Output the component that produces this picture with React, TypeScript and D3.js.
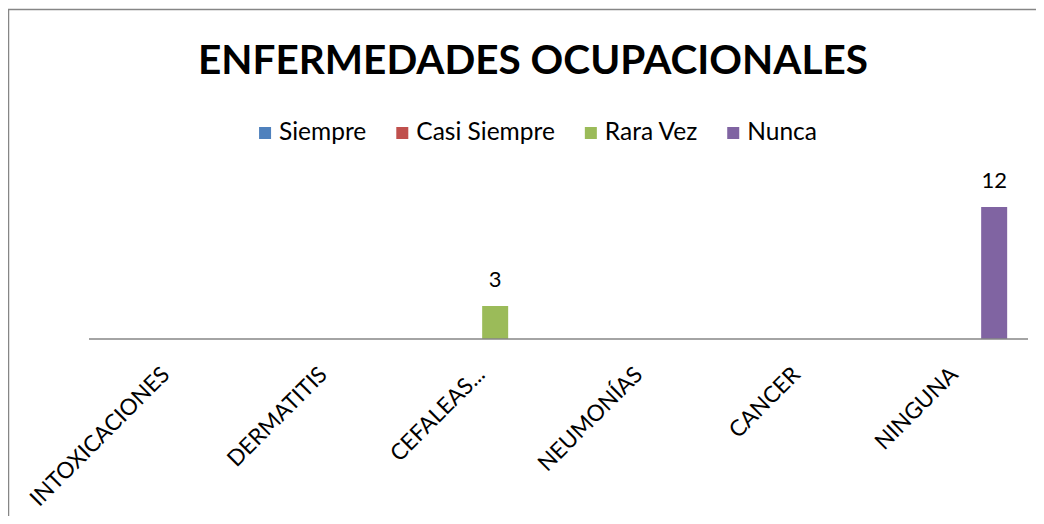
import React, { useRef, useEffect } from 'react';
import * as d3 from 'd3';

const categories = ['INTOXICACIONES', 'DERMATITIS', 'CEFALEAS...', 'NEUMONÍAS', 'CANCER', 'NINGUNA'];
const seriesNames = ['Siempre', 'Casi Siempre', 'Rara Vez', 'Nunca'];
const seriesColors = ['#4F81BD', '#C0504D', '#9BBB59', '#8064A2'];
// one array per series, null = no bar
const siempre = [null, null, null, null, null, null];
const casiSiempre = [null, null, null, null, null, null];
const raraVez = [null, null, 3, null, null, null];
const nunca = [null, null, null, null, null, 12];

const FONT = 'Lato, "Open Sans", sans-serif';

const App = () => {
  const ref = useRef<SVGSVGElement>(null);

  useEffect(() => {
    const W = 1044;
    const H = 524;
    const svg = d3.select(ref.current).attr('width', W).attr('height', H);
    svg.selectAll('*').remove();

    const series = [siempre, casiSiempre, raraVez, nunca];
    const plot = { left: 88, right: 1034, axisRight: 1028, bottom: 339, top: 185 };

    // chart frame (right and bottom edges fall outside the picture)
    svg.append('rect')
      .attr('x', 8.5).attr('y', 9.5)
      .attr('width', 1100).attr('height', 600)
      .attr('fill', '#fff').attr('stroke', '#868686').attr('stroke-width', 1.5);

    svg.append('text')
      .attr('x', 533).attr('y', 74)
      .attr('text-anchor', 'middle')
      .attr('font-family', FONT).attr('font-weight', 700).attr('font-size', 40)
      .attr('textLength', 670).attr('lengthAdjust', 'spacingAndGlyphs')
      .text('ENFERMEDADES OCUPACIONALES');

    // legend, measured then centred
    const legend = svg.append('g');
    let cursor = 0;
    seriesNames.forEach((name, i) => {
      const item = legend.append('g').attr('transform', `translate(${cursor},0)`);
      item.append('rect').attr('x', 0).attr('y', -13).attr('width', 12).attr('height', 12)
        .attr('fill', seriesColors[i]);
      const t = item.append('text').attr('x', 20).attr('y', 0)
        .attr('font-family', FONT).attr('font-size', 24.5).attr('fill', '#000')
        .text(name);
      const len = (t.node() as SVGTextElement).getComputedTextLength();
      cursor += 20 + len + 30;
    });
    const legendW = cursor - 30;
    legend.attr('transform', `translate(${538 - legendW / 2},140)`);

    const x0 = d3.scaleBand<string>().domain(categories).range([plot.left, plot.right]);
    const bw = 26;
    const x1 = d3.scaleBand<string>().domain(seriesNames)
      .range([x0.bandwidth() / 2 - 2 * bw, x0.bandwidth() / 2 + 2 * bw]);
    const y = d3.scaleLinear().domain([0, 14]).range([plot.bottom, plot.top]);

    const g = svg.append('g');
    series.forEach((vals, si) => {
      vals.forEach((v, ci) => {
        if (v == null) return;
        const bx = (x0(categories[ci]) as number) + (x1(seriesNames[si]) as number);
        g.append('rect')
          .attr('x', bx).attr('y', y(v))
          .attr('width', x1.bandwidth()).attr('height', y(0) - y(v))
          .attr('fill', seriesColors[si]);
        g.append('text')
          .attr('x', bx + x1.bandwidth() / 2).attr('y', y(v) - 19)
          .attr('text-anchor', 'middle')
          .attr('font-family', FONT).attr('font-size', 22)
          .text(v);
      });
    });

    svg.append('line')
      .attr('x1', plot.left + 1).attr('x2', plot.axisRight)
      .attr('y1', y(0)).attr('y2', y(0))
      .attr('stroke', '#868686').attr('stroke-width', 1.5);

    categories.forEach((c) => {
      const cx = (x0(c) as number) + x0.bandwidth() / 2;
      svg.append('text')
        .attr('transform', `translate(${cx + 4},${plot.bottom + 37}) rotate(-45)`)
        .attr('text-anchor', 'end')
        .attr('font-family', FONT).attr('font-size', 22.5)
        .text(c);
    });
  }, []);

  return <svg ref={ref} style={{ display: 'block', margin: -8 }}></svg>;
};

export default App;
